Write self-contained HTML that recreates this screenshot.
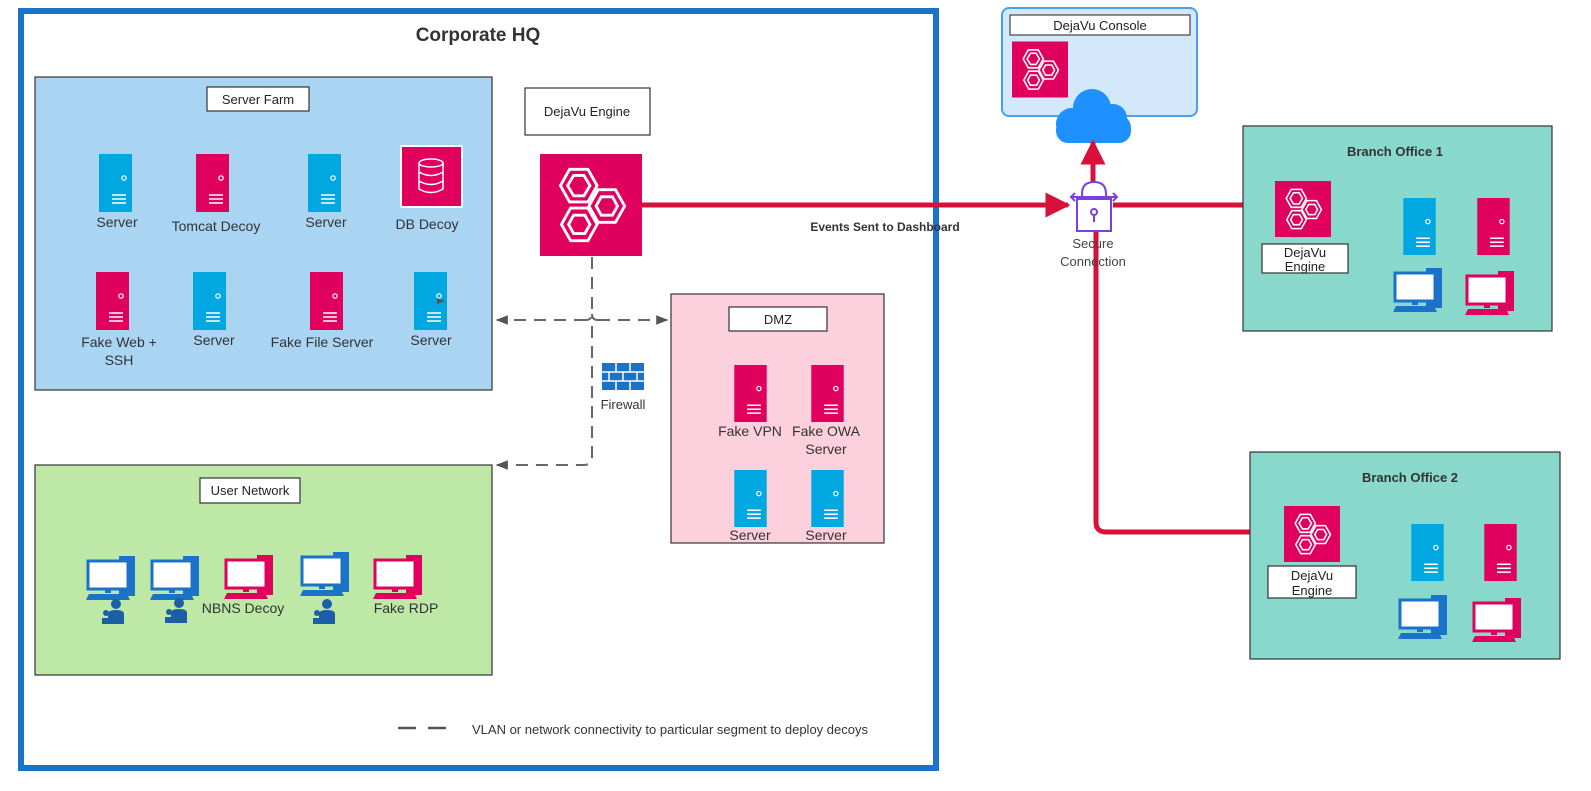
<!DOCTYPE html>
<html><head><meta charset="utf-8"><style>
html,body{margin:0;padding:0;background:#fff;overflow:hidden;}
svg{display:block;font-family:"Liberation Sans",sans-serif;}
</style></head><body>
<svg width="1591" height="791" viewBox="0 0 1591 791" xmlns="http://www.w3.org/2000/svg">
<defs>
<symbol id="srvB" viewBox="0 0 33 58"><rect width="33" height="58" fill="#00a7e1"/><circle cx="25" cy="24" r="2.2" fill="none" stroke="#fff" stroke-width="1.2"/><path d="M13 41h14M13 45h14M13 49h14" stroke="#fff" stroke-width="1.5"/></symbol>
<symbol id="srvP" viewBox="0 0 33 58"><rect width="33" height="58" fill="#e0005e"/><circle cx="25" cy="24" r="2.2" fill="none" stroke="#fff" stroke-width="1.2"/><path d="M13 41h14M13 45h14M13 49h14" stroke="#fff" stroke-width="1.5"/></symbol>
<symbol id="pcB" viewBox="0 0 52 46"><rect x="33" y="0" width="16" height="40" fill="#1a73c9"/><rect x="2" y="5" width="40" height="28" fill="#fff" stroke="#1a73c9" stroke-width="3"/><rect x="19" y="33" width="6" height="4" fill="#1a73c9"/><path d="M3 38h38l3 6H0z" fill="#1a73c9"/></symbol>
<symbol id="pcP" viewBox="0 0 52 46"><rect x="33" y="0" width="16" height="40" fill="#e0005e"/><rect x="2" y="5" width="40" height="28" fill="#fff" stroke="#e0005e" stroke-width="3"/><rect x="19" y="33" width="6" height="4" fill="#e0005e"/><path d="M3 38h38l3 6H0z" fill="#e0005e"/></symbol>
<symbol id="person" viewBox="0 0 24 26"><circle cx="14" cy="6" r="5" fill="#1a5fa8"/><path d="M6 26v-10q0-4 8-4 8 0 8 4v10z" fill="#1a5fa8"/><circle cx="4" cy="15" r="3" fill="#1a5fa8"/><path d="M0 26v-6h8v6z" fill="#1a5fa8"/></symbol>
<symbol id="eng" viewBox="0 0 100 100"><rect width="100" height="100" fill="#e0005e"/>
<g fill="none" stroke="#fff" stroke-width="2.8">
<polygon points="20,31 29,15 47,15 56,31 47,47 29,47"/><polygon points="27,31 33,21 43,21 49,31 43,41 33,41"/>
<polygon points="48,51 57,35 74,35 83,51 74,67 57,67"/><polygon points="55,51 60,42 71,42 76,51 71,60 60,60"/>
<polygon points="21,69 30,53 47,53 56,69 47,85 30,85"/><polygon points="28,69 33,60 44,60 49,69 44,78 33,78"/>
</g></symbol>
<marker id="rArr" viewBox="0 0 10 10" refX="9" refY="5" markerWidth="5" markerHeight="5" orient="auto"><path d="M0 0L10 5L0 10z" fill="#d8103a"/></marker>
<marker id="gArr" viewBox="0 0 10 10" refX="9" refY="5" markerWidth="6" markerHeight="6" orient="auto-start-reverse"><path d="M0 1L10 5L0 9z" fill="#555"/></marker>
</defs>

<rect x="21" y="11" width="915" height="757" fill="#fff" stroke="#1a73c9" stroke-width="6"/>
<text x="478" y="41" font-size="19" font-weight="bold" text-anchor="middle" fill="#333">Corporate HQ</text>

<rect x="35" y="77" width="457" height="313" fill="#a9d4f2" stroke="#333" stroke-width="1.2"/>
<rect x="207" y="87" width="102" height="24" fill="#fff" stroke="#333" stroke-width="1.2"/>
<text x="258" y="104" font-size="13" text-anchor="middle" fill="#222">Server Farm</text>
<g font-size="14" fill="#333" text-anchor="middle">
<use href="#srvB" x="99" y="153" width="33" height="60"/><text x="117" y="227">Server</text>
<use href="#srvP" x="196" y="153" width="33" height="60"/><text x="216" y="231">Tomcat Decoy</text>
<use href="#srvB" x="308" y="153" width="33" height="60"/><text x="326" y="227">Server</text>
<rect x="401" y="146" width="61" height="61" fill="#e0005e" stroke="#fff" stroke-width="2"/>
<g fill="none" stroke="#fff" stroke-width="1.5"><ellipse cx="431" cy="163" rx="12" ry="4"/><path d="M419 163v26q12 7 24 0v-26M419 172q12 7 24 0M419 181q12 7 24 0"/></g>
<text x="427" y="229">DB Decoy</text>
<use href="#srvP" x="96" y="271" width="33" height="60"/><text x="119" y="347">Fake Web +</text><text x="119" y="365">SSH</text>
<use href="#srvB" x="193" y="271" width="33" height="60"/><text x="214" y="345">Server</text>
<use href="#srvP" x="310" y="271" width="33" height="60"/><text x="322" y="347">Fake File Server</text>
<use href="#srvB" x="414" y="271" width="33" height="60"/><path d="M437 298l8 3-8 3z" fill="#555"/><text x="431" y="345">Server</text>
</g>

<rect x="525" y="88" width="125" height="47" fill="#fff" stroke="#333" stroke-width="1.2"/>
<text x="587" y="116" font-size="13" text-anchor="middle" fill="#222">DejaVu Engine</text>
<use href="#eng" x="540" y="153" width="102" height="104"/>

<g stroke="#666" stroke-width="2" stroke-dasharray="12,8" fill="none">
<path d="M592 257V313q0 7 -6 7"/>
<path d="M586 320H497" marker-end="url(#gArr)"/>
<path d="M598 320H667" marker-end="url(#gArr)"/>
<path d="M592 326V457q0 8-8 8H497" marker-end="url(#gArr)"/>
</g>
<path d="M592 314q0 6 6 6" stroke="#666" stroke-width="2" fill="none"/>
<rect x="602" y="363" width="42" height="27" fill="#1a73c9"/>
<g stroke="#fff" stroke-width="1.5"><path d="M602 372h42M602 381h42M616 363v9M630 363v9M609 372v9M623 372v9M637 372v9M616 381v9M630 381v9"/></g>
<text x="623" y="409" font-size="13" text-anchor="middle" fill="#333">Firewall</text>

<rect x="671" y="294" width="213" height="249" fill="#fdd0de" stroke="#333" stroke-width="1.2"/>
<rect x="729" y="307" width="98" height="24" fill="#fff" stroke="#333" stroke-width="1.2"/>
<text x="778" y="324" font-size="13" text-anchor="middle" fill="#222">DMZ</text>
<g font-size="14" fill="#333" text-anchor="middle">
<use href="#srvP" x="734" y="365" width="33" height="57"/><text x="750" y="436">Fake VPN</text>
<use href="#srvP" x="811" y="365" width="33" height="57"/><text x="826" y="436">Fake OWA</text><text x="826" y="454">Server</text>
<use href="#srvB" x="734" y="470" width="33" height="57"/><text x="750" y="540">Server</text>
<use href="#srvB" x="811" y="470" width="33" height="57"/><text x="826" y="540">Server</text>
</g>

<rect x="35" y="465" width="457" height="210" fill="#bde8a6" stroke="#333" stroke-width="1.2"/>
<rect x="200" y="478" width="100" height="25" fill="#fff" stroke="#333" stroke-width="1.2"/>
<text x="250" y="495" font-size="13" text-anchor="middle" fill="#222">User Network</text>
<use href="#pcB" x="86" y="556" width="52" height="46"/><use href="#person" x="102" y="598" width="24" height="26"/>
<use href="#pcB" x="150" y="556" width="52" height="46"/><use href="#person" x="165" y="597" width="24" height="26"/>
<use href="#pcP" x="224" y="555" width="52" height="46"/><text x="243" y="613" font-size="14" text-anchor="middle" fill="#333">NBNS Decoy</text>
<use href="#pcB" x="300" y="552" width="52" height="46"/><use href="#person" x="313" y="598" width="24" height="26"/>
<use href="#pcP" x="373" y="555" width="52" height="46"/><text x="406" y="613" font-size="14" text-anchor="middle" fill="#333">Fake RDP</text>

<path d="M398 728h57" stroke="#555" stroke-width="2.5" stroke-dasharray="18,12"/>
<text x="472" y="734" font-size="13" fill="#333">VLAN or network connectivity to particular segment to deploy decoys</text>

<rect x="1002" y="8" width="195" height="108" rx="7" fill="#d3e8fb" stroke="#4aa0ef" stroke-width="2"/>
<rect x="1010" y="15" width="180" height="20" fill="#fff" stroke="#444" stroke-width="1.2"/>
<text x="1100" y="30" font-size="13" text-anchor="middle" fill="#222">DejaVu Console</text>
<use href="#eng" x="1012" y="41" width="56" height="57"/>
<g fill="#1e90ff">
<circle cx="1072" cy="124" r="16"/><circle cx="1092" cy="108" r="19"/><circle cx="1113" cy="118" r="14"/><circle cx="1117" cy="128" r="14"/>
<rect x="1056" y="118" width="75" height="25" rx="12"/>
</g>

<g stroke="#d8103a" stroke-width="5" fill="none">
<path d="M642 205H1068" marker-end="url(#rArr)"/>
<path d="M1113 205H1274" marker-end="url(#rArr)"/>
<path d="M1093 183V142" marker-end="url(#rArr)"/>
<path d="M1096 230V522q0 10 10 10H1250"/>
</g>
<text x="885" y="231" font-size="12" font-weight="bold" text-anchor="middle" fill="#333">Events Sent to Dashboard</text>
<g stroke="#7b3fe0" stroke-width="2" fill="none">
<path d="M1082 199v-5q0-12 12-12 12 0 12 12v5"/>
<rect x="1077" y="199" width="34" height="32" fill="#fff"/>
<circle cx="1094" cy="212" r="3"/><path d="M1094 215v7"/>
<path d="M1072 197h44M1075 193l-4 4 4 4M1113 193l4 4-4 4"/>
</g>
<text x="1093" y="248" font-size="13" text-anchor="middle" fill="#444">Secure</text>
<text x="1093" y="266" font-size="13" text-anchor="middle" fill="#444">Connection</text>

<rect x="1243" y="126" width="309" height="205" fill="#88d8cb" stroke="#333" stroke-width="1.2"/>
<text x="1395" y="156" font-size="13" font-weight="bold" text-anchor="middle" fill="#333">Branch Office 1</text>
<use href="#eng" x="1275" y="181" width="56" height="56"/>
<rect x="1262" y="244" width="86" height="29" fill="#fff" stroke="#333" stroke-width="1.2"/>
<text x="1305" y="257" font-size="13" text-anchor="middle" fill="#222">DejaVu</text>
<text x="1305" y="271" font-size="13" text-anchor="middle" fill="#222">Engine</text>
<use href="#srvB" x="1403" y="198" width="33" height="57"/>
<use href="#srvP" x="1477" y="198" width="33" height="57"/>
<use href="#pcB" x="1393" y="268" width="52" height="46"/>
<use href="#pcP" x="1465" y="271" width="52" height="46"/>

<rect x="1250" y="452" width="310" height="207" fill="#88d8cb" stroke="#333" stroke-width="1.2"/>
<text x="1410" y="482" font-size="13" font-weight="bold" text-anchor="middle" fill="#333">Branch Office 2</text>
<use href="#eng" x="1284" y="506" width="56" height="56"/>
<rect x="1268" y="566" width="88" height="32" fill="#fff" stroke="#333" stroke-width="1.2"/>
<text x="1312" y="580" font-size="13" text-anchor="middle" fill="#222">DejaVu</text>
<text x="1312" y="595" font-size="13" text-anchor="middle" fill="#222">Engine</text>
<use href="#srvB" x="1411" y="524" width="33" height="57"/>
<use href="#srvP" x="1484" y="524" width="33" height="57"/>
<use href="#pcB" x="1398" y="595" width="52" height="46"/>
<use href="#pcP" x="1472" y="598" width="52" height="46"/>
</svg>
</body></html>
